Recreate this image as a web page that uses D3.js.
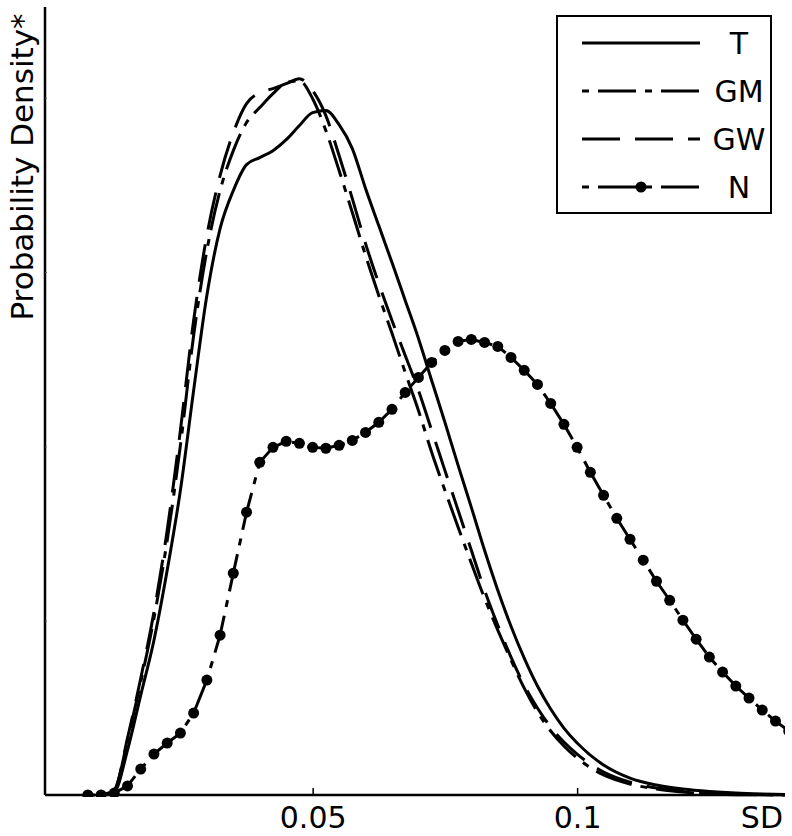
<!DOCTYPE html>
<html>
<head>
<meta charset="utf-8">
<script src="https://cdn.jsdelivr.net/npm/d3@7"></script>
<style>
  body { margin: 0; background: #fff; }
  text { font-family: "DejaVu Sans", sans-serif; fill: #000; }
</style>
</head>
<body>
<div class="chart"></div>
<script>
// SD grid shared by the smooth density curves
var sdGrid = [0.01, 0.0125, 0.015, 0.0175, 0.02, 0.0225, 0.025, 0.0275, 0.03, 0.0325,
  0.035, 0.0375, 0.04, 0.0425, 0.045, 0.0475, 0.05, 0.0525, 0.055, 0.0575,
  0.06, 0.0625, 0.065, 0.0675, 0.07, 0.0725, 0.075, 0.0775, 0.08, 0.0825,
  0.085, 0.0875, 0.09, 0.0925, 0.095, 0.0975, 0.1, 0.105, 0.11, 0.115,
  0.12, 0.125, 0.13, 0.135, 0.14];

var densT = [0, 0.17, 2.58, 5.73, 8.88, 12.89, 17.48, 23.21, 28.65, 32.49,
  34.67, 36.16, 36.56, 36.96, 37.59, 38.40, 39.14, 39.26, 38.45, 37.08,
  34.79, 32.66, 30.54, 28.37, 26.19, 23.78, 21.38, 18.91, 16.50, 14.04,
  11.75, 9.68, 7.85, 6.25, 4.93, 3.84, 2.98, 1.72, 0.97, 0.57,
  0.34, 0.20, 0.11, 0.06, 0.03];

var densGM = [0, 0.29, 3.15, 6.48, 10.14, 14.61, 20.06, 26.36, 31.23, 34.67,
  36.96, 38.57, 39.43, 40.23, 40.86, 40.97, 39.94, 38.11, 35.82, 33.41,
  30.95, 28.65, 26.48, 24.24, 22.06, 19.66, 17.48, 15.36, 13.30, 11.29,
  9.46, 7.74, 6.13, 4.76, 3.67, 2.81, 2.12, 1.15, 0.63, 0.34,
  0.17, 0.06, 0.02, 0.01, 0];

var densGW = [0, 0.29, 3.27, 6.70, 10.49, 15.19, 20.92, 27.22, 32.09, 35.53,
  37.99, 39.66, 40.29, 40.52, 40.80, 41.09, 40.40, 38.97, 36.68, 34.21,
  31.63, 29.34, 27.22, 25.21, 23.21, 20.92, 18.62, 16.33, 14.04, 11.75,
  9.74, 7.91, 6.30, 4.99, 3.90, 3.04, 2.35, 1.32, 0.74, 0.40,
  0.23, 0.11, 0.06, 0.02, 0.01];

// N is drawn with a marker at each of its points
var sdN = [0.0075, 0.01, 0.0125, 0.015, 0.0175, 0.02, 0.0225, 0.025, 0.0275, 0.03,
  0.0325, 0.035, 0.0375, 0.04, 0.0425, 0.045, 0.0475, 0.05, 0.0525, 0.055,
  0.0575, 0.06, 0.0625, 0.065, 0.0675, 0.07, 0.0725, 0.075, 0.0775, 0.08,
  0.0825, 0.085, 0.0875, 0.09, 0.0925, 0.095, 0.0975, 0.1, 0.1025, 0.105,
  0.1075, 0.11, 0.1125, 0.115, 0.1175, 0.12, 0.1225, 0.125, 0.1275, 0.13,
  0.1325, 0.135, 0.1375, 0.14];

var densN = [0, 0, 0.11, 0.52, 1.49, 2.35, 2.98, 3.55, 4.70, 6.59,
  9.17, 12.72, 16.22, 19.08, 19.94, 20.29, 20.17, 19.94, 19.89, 20.06,
  20.34, 20.80, 21.38, 22.12, 23.09, 23.95, 24.81, 25.50, 26.02, 26.13,
  25.96, 25.73, 25.10, 24.36, 23.55, 22.46, 21.26, 19.94, 18.51, 17.19,
  15.87, 14.67, 13.47, 12.26, 11.17, 10.03, 8.94, 7.91, 7.05, 6.25,
  5.56, 4.87, 4.24, 3.67];

var xTicks = [0.05, 0.1];
var xTickLabels = ["0.05", "0.1"];
var yTicks = [10, 20, 30, 40];
var seriesNames = ["T", "GM", "GW", "N"];

var svgWidth = 792;
var svgHeight = 836;
var plotLeft = 45, plotRight = 785, plotTop = 7, plotBottom = 795;

var svg = d3.select(".chart")
  .append("svg")
  .attr("width", svgWidth)
  .attr("height", svgHeight);

var x = d3.scaleLinear().domain([-0.0006, 0.1393]).range([plotLeft, plotRight]);
var y = d3.scaleLinear().domain([0, 45.2]).range([plotBottom, plotTop]);

var dashGM = "7,9,38,9";
var dashGW = "38,15";

var series = [
  { name: "T", xs: sdGrid, ys: densT, dash: null },
  { name: "GM", xs: sdGrid, ys: densGM, dash: dashGM },
  { name: "GW", xs: sdGrid, ys: densGW, dash: dashGW },
  { name: "N", xs: sdN, ys: densN, dash: dashGM }
];

svg.append("clipPath")
  .attr("id", "plotClip")
  .append("rect")
  .attr("x", plotLeft).attr("y", 0)
  .attr("width", plotRight - plotLeft).attr("height", plotBottom + 2);

var plot = svg.append("g").attr("clip-path", "url(#plotClip)");

series.forEach(function(s) {
  var pts = s.xs.map(function(d, i) { return [d, s.ys[i]]; });
  var line = d3.line()
    .x(function(d) { return x(d[0]); })
    .y(function(d) { return y(d[1]); })
    .curve(s.name === "N" ? d3.curveLinear : d3.curveMonotoneX);
  plot.append("path")
    .datum(pts)
    .attr("fill", "none")
    .attr("stroke", "#000")
    .attr("stroke-width", 3)
    .attr("stroke-dasharray", s.dash)
    .attr("d", line);
  if (s.name === "N") {
    plot.selectAll("circle.n")
      .data(pts)
      .enter().append("circle")
      .attr("class", "n")
      .attr("cx", function(d) { return x(d[0]); })
      .attr("cy", function(d) { return y(d[1]); })
      .attr("r", 5.5)
      .attr("fill", "#000");
  }
});

// axes
var xAxis = d3.axisBottom(x).tickValues(xTicks).tickSize(-7).tickFormat(function(d, i) { return xTickLabels[i]; });
var gx = svg.append("g")
  .attr("transform", "translate(0," + plotBottom + ")")
  .call(xAxis);
gx.select(".domain").attr("d", "M" + plotLeft + ",0H" + plotRight).attr("stroke-width", 2.5);
gx.selectAll(".tick line").attr("stroke-width", 1.5);
gx.selectAll(".tick text")
  .attr("y", 33)
  .attr("dy", 0)
  .style("font-size", "30px")
  .style("font-family", "DejaVu Sans");

var yAxis = d3.axisLeft(y).tickValues(yTicks).tickSize(-2).tickFormat("");
var gy = svg.append("g")
  .attr("transform", "translate(" + plotLeft + ",0)")
  .call(yAxis);
gy.select(".domain").attr("d", "M0," + plotTop + "V" + plotBottom).attr("stroke-width", 2.5);
gy.selectAll(".tick line").attr("stroke-width", 1).attr("stroke", "#555");

svg.append("text")
  .attr("x", 783)
  .attr("y", 828)
  .attr("text-anchor", "end")
  .style("font-size", "30px")
  .text("SD");

svg.append("text")
  .attr("transform", "translate(33," + 167 + ") rotate(-90)")
  .attr("text-anchor", "middle")
  .style("font-size", "31px")
  .text("Probability Density*");

// legend
var legend = svg.append("g");
legend.append("rect")
  .attr("x", 557).attr("y", 16)
  .attr("width", 214).attr("height", 197)
  .attr("fill", "#fff")
  .attr("stroke", "#000")
  .attr("stroke-width", 2);

series.forEach(function(s, i) {
  var ly = 43 + i * 48;
  legend.append("line")
    .attr("x1", 582).attr("x2", 700)
    .attr("y1", ly).attr("y2", ly)
    .attr("stroke", "#000")
    .attr("stroke-width", 3)
    .attr("stroke-dasharray", s.dash);
  if (s.name === "N") {
    legend.append("circle")
      .attr("cx", 641).attr("cy", ly).attr("r", 5.5).attr("fill", "#000");
  }
  legend.append("text")
    .attr("x", 739).attr("y", ly + 11)
    .attr("text-anchor", "middle")
    .style("font-size", "30px")
    .text(seriesNames[i]);
});
</script>
</body>
</html>
